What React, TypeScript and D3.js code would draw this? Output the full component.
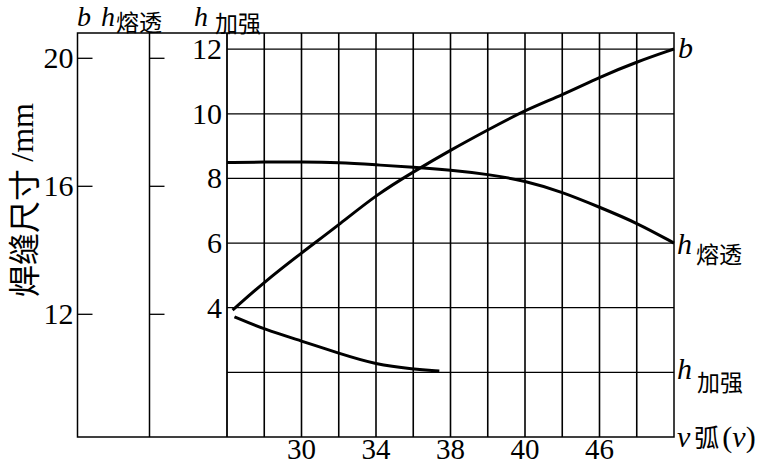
import * as d3 from "d3";
import { useMemo } from "react";

// welding speed (x) and the three weld sizes
const bSpeed = [26.3, 28, 30, 32, 34, 36, 38, 40, 42, 44, 46, 48, 50];
const bWidth = [12.13, 13.01, 13.92, 14.79, 15.73, 16.45, 17.13, 17.76, 18.38, 18.85, 19.41, 19.89, 20.29];

const meltSpeed = [26, 28, 30, 32, 34, 36, 38, 40, 42, 44, 46, 48, 50];
const meltDepth = [8.49, 8.51, 8.51, 8.49, 8.42, 8.35, 8.26, 8.13, 7.93, 7.58, 7.11, 6.63, 6.0];

const reinfSpeed = [26.4, 28, 30, 32, 34, 36, 37.4];
const reinfHeight = [3.72, 3.33, 2.97, 2.59, 2.24, 2.1, 2.04];

const speedTicks = [30, 34, 38, 42, 46];
const speedTickLabels = ["30", "34", "38", "40", "46"];
const speedGrid = d3.range(28, 50, 2);

const bTicks = [12, 16, 20];
const hGrid = [2, 4, 6, 8, 10, 12];
const hTickLabels = [4, 6, 8, 10, 12];

const WIDTH = 774;
const HEIGHT = 465;
const FRAME = { left: 77.5, mid: 149.5, top: 33, bottom: 437 };
const SERIF = "Liberation Serif";
const CJK = "Noto Sans CJK SC";

function WeldChart() {
  const xScale = useMemo(
    () => d3.scaleLinear().domain([26, 50]).range([227, 674]),
    []
  );
  // grid / h axis
  const yScale = useMemo(
    () => d3.scaleLinear().domain([0, 12.5]).range([FRAME.bottom, FRAME.top]),
    []
  );
  // b axis on the far left
  const bScale = useMemo(
    () => d3.scaleLinear().domain([12, 20]).range([314.3, 58.3]),
    []
  );

  const smooth = d3
    .line<[number, number]>()
    .x((d) => d[0])
    .y((d) => d[1])
    .curve(d3.curveBasis);

  const bPath = smooth(bSpeed.map((v, i) => [xScale(v), bScale(bWidth[i])]));
  const meltPath = smooth(meltSpeed.map((v, i) => [xScale(v), yScale(meltDepth[i])]));
  const reinfPath = smooth(reinfSpeed.map((v, i) => [xScale(v), yScale(reinfHeight[i])]));

  const x0 = xScale(26);
  const x1 = xScale(50);

  return (
    <svg
      width={WIDTH}
      height={HEIGHT}
      style={{ position: "absolute", left: 0, top: 0, background: "white" }}
      fontFamily={SERIF}
    >
      {/* vertical grid */}
      {speedGrid.map((v) => (
        <line key={v} x1={xScale(v)} x2={xScale(v)} y1={FRAME.top} y2={FRAME.bottom} stroke="#000" strokeWidth={1.6} />
      ))}
      {/* horizontal grid */}
      {hGrid.map((h) => (
        <line key={h} x1={x0} x2={x1} y1={yScale(h)} y2={yScale(h)} stroke="#000" strokeWidth={1.3} />
      ))}

      {/* frame and axis lines */}
      <rect
        x={FRAME.left}
        y={FRAME.top}
        width={x1 - FRAME.left}
        height={FRAME.bottom - FRAME.top}
        fill="none"
        stroke="#000"
        strokeWidth={1.5}
      />
      <line x1={FRAME.mid} x2={FRAME.mid} y1={FRAME.top} y2={FRAME.bottom} stroke="#000" strokeWidth={1.5} />
      <line x1={x0} x2={x0} y1={FRAME.top} y2={FRAME.bottom} stroke="#000" strokeWidth={1.8} />

      {/* b axis + h熔透 axis ticks */}
      {bTicks.map((b) => (
        <g key={b}>
          <line x1={FRAME.left} x2={FRAME.left + 15} y1={bScale(b)} y2={bScale(b)} stroke="#000" strokeWidth={1.3} />
          <line x1={FRAME.mid} x2={FRAME.mid + 15} y1={bScale(b)} y2={bScale(b)} stroke="#000" strokeWidth={1.3} />
          <text x={FRAME.left - 4} y={bScale(b) + 10} textAnchor="end" fontSize={30} fontFamily={SERIF}>
            {b}
          </text>
        </g>
      ))}

      {/* h加强 axis labels */}
      {hTickLabels.map((h) => (
        <text key={h} x={x0 - 5} y={yScale(h) + 10} textAnchor="end" fontSize={30} fontFamily={SERIF}>
          {h}
        </text>
      ))}

      {/* speed labels */}
      {speedTicks.map((v, i) => (
        <text key={v} x={xScale(v)} y={459} textAnchor="middle" fontSize={29} fontFamily={SERIF}>
          {speedTickLabels[i]}
        </text>
      ))}

      {/* curves */}
      <path d={bPath ?? ""} fill="none" stroke="#000" strokeWidth={3} />
      <path d={meltPath ?? ""} fill="none" stroke="#000" strokeWidth={3} />
      <path d={reinfPath ?? ""} fill="none" stroke="#000" strokeWidth={3} />

      {/* axis headings */}
      <text x={77} y={26} fontSize={28} fontStyle="italic" fontFamily={SERIF}>b</text>
      <text x={101} y={26} fontSize={28} fontStyle="italic" fontFamily={SERIF}>h</text>
      <text x={116} y={31} fontSize={23} fontFamily={CJK}>熔透</text>
      <text x={194} y={26} fontSize={28} fontStyle="italic" fontFamily={SERIF}>h</text>
      <text x={215} y={32} fontSize={23} fontFamily={CJK}>加强</text>

      {/* curve labels */}
      <text x={678} y={58} fontSize={30} fontStyle="italic" fontFamily={SERIF}>b</text>
      <text x={677} y={254} fontSize={30} fontStyle="italic" fontFamily={SERIF}>h</text>
      <text x={696} y={263} fontSize={23} fontFamily={CJK}>熔透</text>
      <text x={677} y={379} fontSize={30} fontStyle="italic" fontFamily={SERIF}>h</text>
      <text x={697} y={391} fontSize={23} fontFamily={CJK}>加强</text>
      <text x={677} y={447} fontSize={30} fontFamily={SERIF}>
        <tspan fontStyle="italic">v</tspan>
        <tspan fontSize={25} dx={4} fontFamily={CJK}>弧</tspan>
        <tspan dx={3}>(</tspan>
        <tspan fontStyle="italic">v</tspan>
        <tspan>)</tspan>
      </text>

      {/* y title */}
      <text
        transform="translate(22,200) rotate(-90)"
        textAnchor="middle"
        dominantBaseline="central"
        fontSize={32}
        fontFamily={CJK}
      >
        焊缝尺寸 <tspan fontFamily={SERIF}>/mm</tspan>
      </text>
    </svg>
  );
}

export default function App() {
  return <WeldChart />;
}
